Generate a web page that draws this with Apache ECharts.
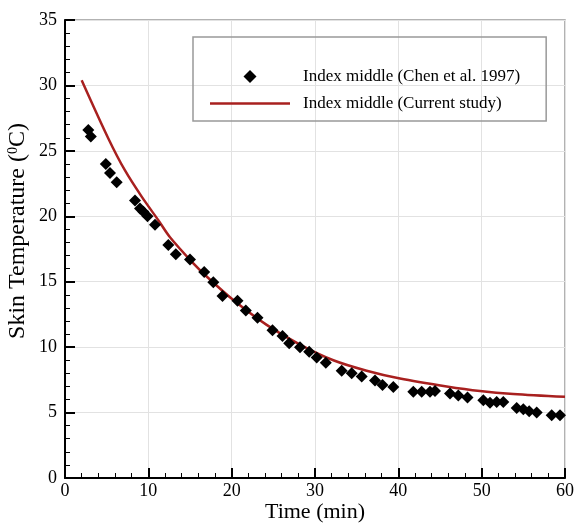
<!DOCTYPE html>
<html>
<head>
<meta charset="utf-8">
<script src="https://cdn.jsdelivr.net/npm/echarts@6/dist/echarts.min.js"></script>
<style>
  html, body { margin: 0; padding: 0; background: #fff; }
  #chart { width: 574px; height: 523px; }
</style>
</head>
<body>
<div id="chart"></div>
<script>
// measured skin temperature (Chen et al. 1997), [min, degC]
const chenPoints = [
  [2.8, 26.6], [3.1, 26.1], [4.9, 24.0], [5.4, 23.3], [6.2, 22.6],
  [8.4, 21.2], [9.0, 20.6], [9.4, 20.35], [9.9, 20.0], [10.8, 19.35],
  [12.4, 17.8], [13.3, 17.1], [15.0, 16.7], [16.7, 15.75], [17.8, 14.95],
  [18.9, 13.9], [20.7, 13.55], [21.7, 12.8], [23.1, 12.25], [24.9, 11.3],
  [26.1, 10.85], [26.9, 10.3], [28.2, 10.0], [29.3, 9.65], [30.2, 9.2],
  [31.3, 8.8], [33.2, 8.2], [34.4, 8.0], [35.6, 7.75], [37.2, 7.45],
  [38.1, 7.1], [39.4, 6.95], [41.8, 6.6], [42.8, 6.6], [43.8, 6.6],
  [44.4, 6.65], [46.2, 6.45], [47.2, 6.3], [48.3, 6.15], [50.2, 5.95],
  [51.0, 5.75], [51.8, 5.8], [52.6, 5.8], [54.2, 5.35], [55.0, 5.25],
  [55.7, 5.1], [56.6, 5.0], [58.4, 4.8], [59.4, 4.8]
]
// simulated curve (current study)
const studyCurve = [
  [2, 30.4], [5.2, 25.95], [7.2, 23.5], [9.2, 21.5], [11.2, 19.7],
  [12.6, 18.4], [15.4, 16.4], [17, 15.4], [20.2, 13.6], [24.2, 11.7],
  [28.2, 10.2], [32.2, 9.0], [36.2, 8.2], [40.2, 7.6], [45.8, 7.0],
  [49.8, 6.65], [53.8, 6.42], [60, 6.2]
]
const xTicks = { min: 0, max: 60, interval: 10 }
const yTicks = { min: 0, max: 35, interval: 5 }
const seriesNames = ['Index middle (Chen et al. 1997)', 'Index middle (Current study)']

const font = 'Liberation Serif'
const chart = echarts.init(document.getElementById('chart'))

const axisCommon = {
  axisLine: { show: true, onZero: false, lineStyle: { color: '#000', width: 2 } },
  axisTick: { show: true, inside: true, length: 10, lineStyle: { color: '#000', width: 2 } },
  minorTick: { show: true, splitNumber: 5, length: 5, lineStyle: { color: '#000', width: 1 } },
  splitLine: { show: true, lineStyle: { color: '#e2e2e2', width: 1 } },
  axisLabel: { color: '#000', fontFamily: font, fontSize: 18, margin: 8 },
  nameLocation: 'middle',
  nameMoveOverlap: false,
  nameTextStyle: { color: '#000', fontFamily: font, fontSize: 22 }
}

chart.setOption({
  animation: false,
  grid: {
    left: 65, right: 9, top: 20, bottom: 45,
    outerBoundsMode: 'none',
    show: true, borderColor: '#999', borderWidth: 1.5
  },
  legend: {
    left: 193, top: 37,
    orient: 'vertical',
    padding: [31, 26, 9, 17],
    itemWidth: 80, itemHeight: 13, itemGap: 10,
    symbolKeepAspect: true,
    borderColor: '#999', borderWidth: 1.5,
    textStyle: { color: '#000', fontFamily: font, fontSize: 17, padding: [0, 0, 0, 8] },
    data: [
      { name: seriesNames[0], icon: 'path://M0,-1L1,0L0,1L-1,0Z' },
      { name: seriesNames[1], icon: 'path://M0,0H80V2.5H0Z' }
    ]
  },
  xAxis: Object.assign({}, axisCommon, {
    type: 'value',
    min: xTicks.min, max: xTicks.max, interval: xTicks.interval,
    axisLabel: { color: '#000', fontFamily: font, fontSize: 18, margin: 4 },
    name: 'Time (min)', nameGap: 23
  }),
  yAxis: Object.assign({}, axisCommon, {
    type: 'value',
    min: yTicks.min, max: yTicks.max, interval: yTicks.interval,
    name: 'Skin Temperature ({sup|0}C)', nameGap: 35,
    nameTextStyle: {
      color: '#000', fontFamily: font, fontSize: 24, padding: [0, 0, 0, 36],
      rich: { sup: { fontFamily: font, fontSize: 14, verticalAlign: 'top', lineHeight: 16, padding: [0, 0, 7, 0] } }
    }
  }),
  series: [
    {
      name: seriesNames[0],
      type: 'scatter',
      symbol: 'diamond',
      symbolSize: 12,
      itemStyle: { color: '#000', opacity: 1 },
      data: chenPoints,
      z: 3
    },
    {
      name: seriesNames[1],
      type: 'line',
      smooth: 0.3,
      showSymbol: false,
      symbol: 'none',
      lineStyle: { color: '#a8201f', width: 2.5 },
      itemStyle: { color: '#a8201f' },
      data: studyCurve,
      z: 2
    }
  ]
})
</script>
</body>
</html>
